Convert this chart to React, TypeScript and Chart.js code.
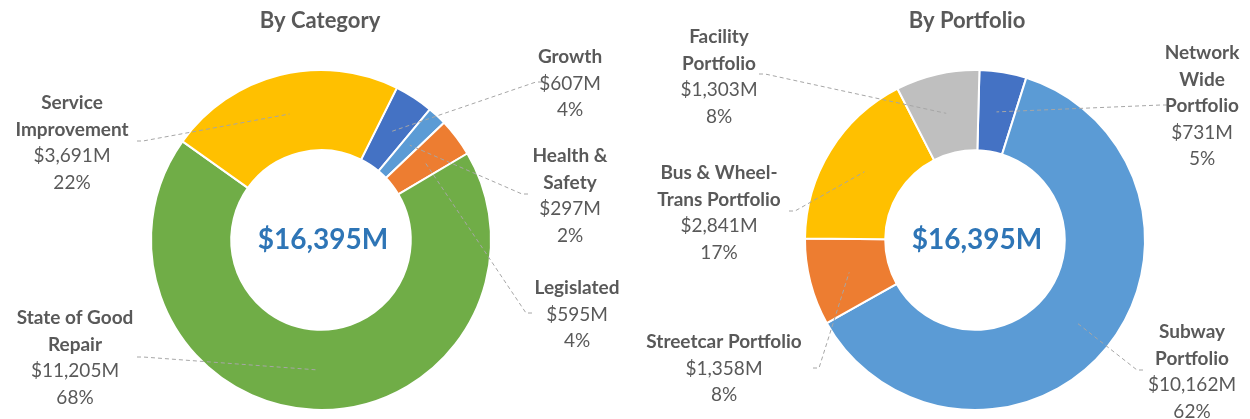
import React, { useEffect, useRef } from "react";
import { Chart, registerables } from "chart.js";

Chart.register(...registerables);

// ---------- Data ----------
const categoryLabels = ["Growth", "Health & Safety", "Legislated", "State of Good Repair", "Service Improvement"];
const categoryValues = [607, 297, 595, 11205, 3691];
const categoryPercents = ["4%", "2%", "4%", "68%", "22%"];
const categoryNameLines = [["Growth"], ["Health &", "Safety"], ["Legislated"], ["State of Good", "Repair"], ["Service", "Improvement"]];
const categoryColors = ["#4472C4", "#5B9BD5", "#ED7D31", "#70AD47", "#FFC000"];

const portfolioLabels = ["Network Wide Portfolio", "Subway Portfolio", "Streetcar Portfolio", "Bus & Wheel-Trans Portfolio", "Facility Portfolio"];
const portfolioValues = [731, 10162, 1358, 2841, 1303];
const portfolioPercents = ["5%", "62%", "8%", "17%", "8%"];
const portfolioNameLines = [["Network", "Wide", "Portfolio"], ["Subway", "Portfolio"], ["Streetcar Portfolio"], ["Bus & Wheel-", "Trans Portfolio"], ["Facility", "Portfolio"]];
const portfolioColors = ["#4472C4", "#5B9BD5", "#ED7D31", "#FFC000", "#BFBFBF"];

// ---------- Layout (offsets relative to doughnut centre) ----------
type LabelPos = { tx: number; ty: number; lx: number; ly: number; hx: number };
const categoryLabelPos: LabelPos[] = [
  { tx: 249, ty: -183, lx: 215, ly: -158, hx: 6 },
  { tx: 249, ty: -84, lx: 201, ly: -46, hx: 6 },
  { tx: 256, ty: 48, lx: 205, ly: 73, hx: 6 },
  { tx: -246, ty: 78, lx: -178, ly: 117, hx: -6 },
  { tx: -249, ty: -137, lx: -178, ly: -99, hx: -6 },
];
const portfolioLabelPos: LabelPos[] = [
  { tx: 227, ty: -187, lx: 186, ly: -135, hx: 6 },
  { tx: 217, ty: 92, lx: 162, ly: 130, hx: 6 },
  { tx: -251, ty: 102, lx: -156, ly: 128, hx: -6 },
  { tx: -256, ty: -67, lx: -180, ly: -29, hx: -6 },
  { tx: -256, ty: -203, lx: -210, ly: -166, hx: -6 },
];

const FONT = "Lato, 'Open Sans', sans-serif";
const TEXT_COLOR = "#595959";
const LINE_H = 26.5;

const fmtMoney = (v: number) => "$" + v.toLocaleString("en-US") + "M";

type PanelCfg = {
  title: string;
  titleDx: number;
  labels: string[];
  values: number[];
  percents: string[];
  nameLines: string[][];
  colors: string[];
  pos: LabelPos[];
  rotation: number;
  padLeft: number;
};

function makeLabelPlugin(cfg: PanelCfg) {
  return {
    id: "customLabels",
    afterDraw(chart: any) {
      const ctx = chart.ctx as CanvasRenderingContext2D;
      const meta = chart.getDatasetMeta(0);
      const arc0 = meta.data[0];
      const cx = arc0.x;
      const cy = arc0.y;
      ctx.save();
      // title
      ctx.fillStyle = TEXT_COLOR;
      ctx.font = `bold 22px ${FONT}`;
      ctx.textAlign = "center";
      ctx.textBaseline = "middle";
      ctx.fillText(cfg.title, cx + cfg.titleDx, 21);
      // centre total
      const total = cfg.values.reduce((a, b) => a + b, 0);
      ctx.fillStyle = "#2E75B6";
      ctx.font = `bold 28px ${FONT}`;
      ctx.fillText(fmtMoney(total), cx + 2, cy);
      // leader lines
      ctx.strokeStyle = "#A6A6A6";
      ctx.lineWidth = 1;
      ctx.setLineDash([4, 3]);
      meta.data.forEach((arc: any, i: number) => {
        const p = arc.tooltipPosition(false);
        const lp = cfg.pos[i];
        ctx.beginPath();
        ctx.moveTo(cx + lp.lx + lp.hx, cy + lp.ly);
        ctx.lineTo(cx + lp.lx, cy + lp.ly);
        ctx.lineTo(p.x, p.y);
        ctx.stroke();
      });
      ctx.setLineDash([]);
      // label texts
      cfg.labels.forEach((_, i) => {
        const lp = cfg.pos[i];
        let y = cy + lp.ty;
        const x = cx + lp.tx;
        ctx.fillStyle = TEXT_COLOR;
        ctx.font = `bold 19px ${FONT}`;
        cfg.nameLines[i].forEach((ln) => {
          ctx.fillText(ln, x, y);
          y += LINE_H;
        });
        ctx.font = `19px ${FONT}`;
        ctx.fillText(fmtMoney(cfg.values[i]), x, y);
        y += LINE_H;
        ctx.fillText(cfg.percents[i], x, y);
      });
      ctx.restore();
    },
  };
}

function Panel({ cfg }: { cfg: PanelCfg }) {
  const ref = useRef<HTMLCanvasElement>(null);
  useEffect(() => {
    if (!ref.current) return;
    const chart = new Chart(ref.current, {
      type: "doughnut",
      data: {
        labels: cfg.labels,
        datasets: [
          {
            data: cfg.values,
            backgroundColor: cfg.colors,
            borderColor: "#FFFFFF",
            borderWidth: 2,
          },
        ],
      },
      options: {
        responsive: false,
        animation: false,
        rotation: cfg.rotation,
        radius: 170,
        cutout: 94,
        layout: { padding: { left: cfg.padLeft, right: 0, top: 61, bottom: 0 } },
        plugins: { legend: { display: false }, tooltip: { enabled: false }, title: { display: false } },
        events: [],
      } as any,
      plugins: [makeLabelPlugin(cfg)],
    });
    return () => chart.destroy();
  }, [cfg]);
  return <canvas ref={ref} width={625} height={419} style={{ width: 625, height: 419, display: "block" }} />;
}

const leftCfg: PanelCfg = {
  title: "By Category",
  titleDx: -1,
  labels: categoryLabels,
  values: categoryValues,
  percents: categoryPercents,
  nameLines: categoryNameLines,
  colors: categoryColors,
  pos: categoryLabelPos,
  rotation: 26.5,
  padLeft: 17,
};

const rightCfg: PanelCfg = {
  title: "By Portfolio",
  titleDx: -8,
  labels: portfolioLabels,
  values: portfolioValues,
  percents: portfolioPercents,
  nameLines: portfolioNameLines,
  colors: portfolioColors,
  pos: portfolioLabelPos,
  rotation: 1.5,
  padLeft: 75,
};

export default function App() {
  return (
    <div style={{ position: "absolute", left: 0, top: 0, width: 1250, height: 419, display: "flex", background: "#fff" }}>
      <Panel cfg={leftCfg} />
      <Panel cfg={rightCfg} />
    </div>
  );
}
